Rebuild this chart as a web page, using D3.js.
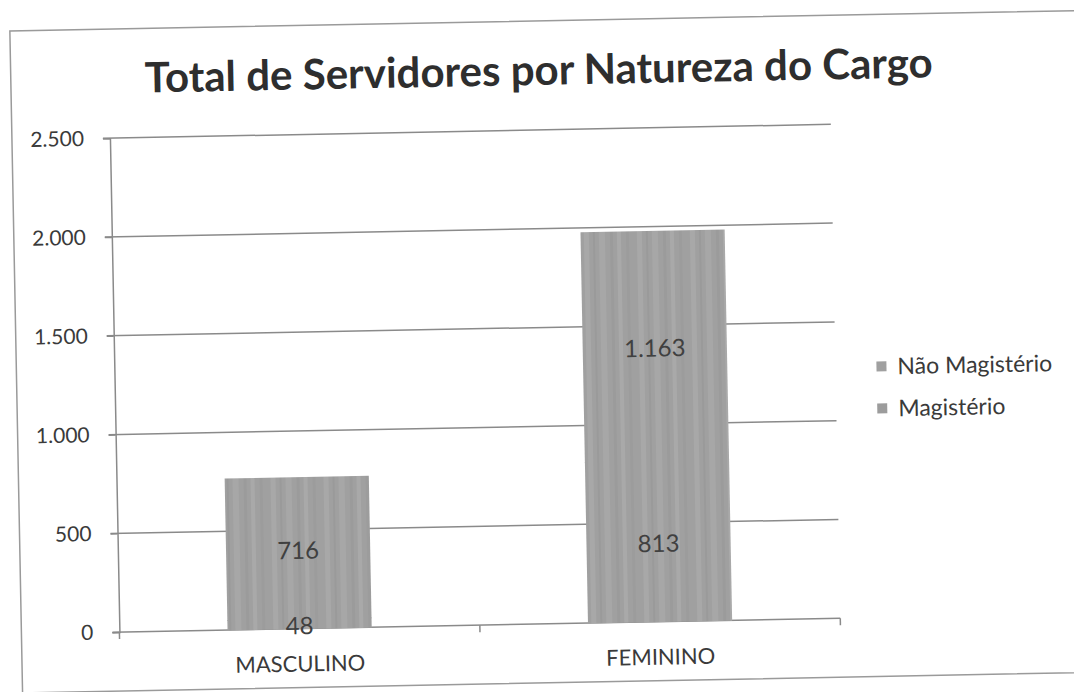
<!DOCTYPE html>
<html>
<head>
<meta charset="utf-8">
<script src="https://cdn.jsdelivr.net/npm/d3@7"></script>
<style>
  body { margin: 0; background: #fff; }
  svg { display: block; }
  text { font-family: Lato, "Open Sans", sans-serif; fill: #3a3a3a; }
</style>
</head>
<body>
<svg id="chart"></svg>
<script>
// values
var categories = ["MASCULINO", "FEMININO"];
var magisterio = [48, 813];
var naoMagisterio = [716, 1163];
var seriesNames = ["Não Magistério", "Magistério"];
var yTicks = [0, 500, 1000, 1500, 2000, 2500];

var w = 1074, h = 692;
var svg = d3.select("#chart").attr("width", w).attr("height", h);

var ptBR = d3.formatLocale({decimal: ",", thousands: ".", grouping: [3], currency: ["R$", ""]});
var fmt = ptBR.format(",d");

// streaky grey fill, like the photocopy
var defs = svg.append("defs");
var pat = defs.append("pattern")
  .attr("id", "streak")
  .attr("patternUnits", "userSpaceOnUse")
  .attr("width", 53).attr("height", 40);
pat.append("rect").attr("width", 53).attr("height", 40).attr("fill", "#a0a0a0");
[[3, 5, "#a8a8a8"], [12, 2, "#9a9a9a"], [18, 6, "#a7a7a7"], [29, 3, "#9b9b9b"], [36, 4, "#a9a9a9"], [45, 3, "#9c9c9c"]].forEach(function(s){
  pat.append("rect").attr("x", s[0]).attr("width", s[1]).attr("height", 40).attr("fill", s[2]);
});

// the scan is a little tilted, so everything is drawn in a rotated group
var g = svg.append("g").attr("transform", "rotate(-1.1,537,346)");

// chart frame
g.append("rect")
  .attr("x", 16).attr("y", 21)
  .attr("width", 1140).attr("height", 662)
  .attr("fill", "#fff")
  .attr("stroke", "#9a9a9a").attr("stroke-width", 1.5);

g.append("text")
  .attr("x", 544).attr("y", 85)
  .attr("text-anchor", "middle")
  .style("font-size", "42px")
  .style("font-weight", "bold")
  .style("fill", "#2e2e2e")
  .text("Total de Servidores por Natureza do Cargo");

var margin = {left: 114, right: 835, top: 130, bottom: 624};

var x = d3.scaleBand().domain(categories)
  .range([margin.left, margin.right])
  .paddingInner(0.6).paddingOuter(0.3);

var y = d3.scaleLinear().domain([0, 2500]).range([margin.bottom, margin.top]);

// gridlines
g.append("g").selectAll("line")
  .data(yTicks)
  .enter().append("line")
  .attr("x1", margin.left - 7).attr("x2", margin.right)
  .attr("y1", function(d){ return y(d); })
  .attr("y2", function(d){ return y(d); })
  .attr("stroke", "#8a8a8a").attr("stroke-width", 1.5);

// y axis
var yAxis = g.append("g")
  .attr("transform", "translate(" + margin.left + ",0)")
  .call(d3.axisLeft(y).tickValues(yTicks).tickFormat(fmt).tickSize(7).tickPadding(19));
yAxis.select(".domain").attr("stroke", "#8a8a8a").attr("stroke-width", 1.5);
yAxis.selectAll(".tick line").attr("stroke", "#8a8a8a").attr("stroke-width", 1.5);
yAxis.selectAll("text").style("font-size", "21px").style("fill", "#3a3a3a").attr("font-family", null);

// x axis tick marks sit between categories
var xTickPos = [margin.left, (x("MASCULINO") + x("FEMININO") + x.bandwidth()) / 2, margin.right];
g.append("g").selectAll("line")
  .data(xTickPos)
  .enter().append("line")
  .attr("x1", function(d){ return d; }).attr("x2", function(d){ return d; })
  .attr("y1", margin.bottom).attr("y2", margin.bottom + 7)
  .attr("stroke", "#8a8a8a").attr("stroke-width", 1.5);

g.append("g").selectAll("text")
  .data(categories)
  .enter().append("text")
  .attr("x", function(d){ return x(d) + x.bandwidth() / 2; })
  .attr("y", margin.bottom + 43)
  .attr("text-anchor", "middle")
  .style("font-size", "22px")
  .text(function(d){ return d; });

// stacked bars
var rows = categories.map(function(c, i){
  return {cat: c, "Magistério": magisterio[i], "Não Magistério": naoMagisterio[i]};
});
var stack = d3.stack().keys(["Magistério", "Não Magistério"])(rows);
var colors = {"Magistério": "#9c9c9c", "Não Magistério": "#a0a0a0"};

var segs = [];
stack.forEach(function(s){
  s.forEach(function(p){ segs.push({key: s.key, cat: p.data.cat, y0: p[0], y1: p[1]}); });
});

g.append("g").selectAll("rect")
  .data(segs)
  .enter().append("rect")
  .attr("x", function(d){ return x(d.cat); })
  .attr("width", x.bandwidth())
  .attr("y", function(d){ return y(d.y1) - 0.5; })
  .attr("height", function(d){ return y(d.y0) - y(d.y1) + 1; })
  .attr("fill", "url(#streak)");

// labels drawn after all bars so the small 48 is not covered
g.append("g").selectAll("text")
  .data(segs)
  .enter().append("text")
  .attr("x", function(d){ return x(d.cat) + x.bandwidth() / 2; })
  .attr("y", function(d){ return (y(d.y0) + y(d.y1)) / 2 + 2; })
  .attr("dy", "0.35em")
  .attr("text-anchor", "middle")
  .style("font-size", "24px")
  .style("fill", "#404040")
  .text(function(d){ return fmt(d.y1 - d.y0); });

// legend
var legend = g.append("g").selectAll("g")
  .data(seriesNames)
  .enter().append("g")
  .attr("transform", function(d, i){ return "translate(876," + (373 + i * 42) + ")"; });

legend.append("rect")
  .attr("x", 0).attr("y", -5)
  .attr("width", 10).attr("height", 10)
  .attr("fill", function(d){ return colors[d]; });

legend.append("text")
  .attr("x", 21).attr("dy", "0.35em")
  .style("font-size", "23px")
  .text(function(d){ return d; });
</script>
</body>
</html>
